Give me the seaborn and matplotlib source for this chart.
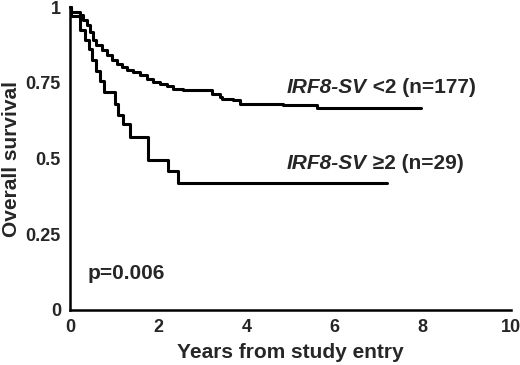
import pandas as pd
import matplotlib
matplotlib.use("Agg")
import matplotlib.pyplot as plt
import seaborn as sns

# Kaplan-Meier steps (years, survival fraction)
LOW_TIME = [0, 0.02, 0.23, 0.34, 0.44, 0.51, 0.60, 0.68, 0.76, 1.02, 1.09, 1.20,
            1.36, 1.77, 2.23, 2.46, 7.18]
LOW_SURV = [1.0, 0.97, 0.925, 0.89, 0.86, 0.825, 0.79, 0.755, 0.72, 0.68, 0.645,
            0.615, 0.57, 0.495, 0.46, 0.42, 0.42]

HIGH_TIME = [0, 0.02, 0.23, 0.30, 0.38, 0.45, 0.53, 0.60, 0.72, 0.83, 0.95, 1.06,
             1.17, 1.29, 1.44, 1.59, 1.74, 1.89, 2.04, 2.19, 2.34, 2.57, 3.21,
             3.40, 3.45, 3.70, 3.85, 4.84, 5.59, 7.97]
HIGH_SURV = [1.0, 0.984, 0.973, 0.956, 0.94, 0.918, 0.89, 0.874, 0.857, 0.841,
             0.824, 0.813, 0.802, 0.791, 0.786, 0.775, 0.764, 0.753, 0.747,
             0.739, 0.731, 0.725, 0.714, 0.703, 0.695, 0.692, 0.681, 0.676,
             0.667, 0.667]

GROUPS = ["<2", ">=2"]
LABEL_GENE = "IRF8-SV"
LABEL_REST = [" <2 (n=177)", " ≥2 (n=29)"]
X_TICKS = [0, 2, 4, 6, 8, 10]
Y_TICKS = [0, 0.25, 0.5, 0.75, 1]
Y_TICK_LABELS = ["0", "0.25", "0.5", "0.75", "1"]

sns.set_style("white")
plt.rcParams["font.family"] = ["Liberation Sans", "DejaVu Sans"]
plt.rcParams["font.weight"] = "bold"

df = pd.concat([
    pd.DataFrame({"Years": HIGH_TIME, "Survival": HIGH_SURV, "Group": GROUPS[0]}),
    pd.DataFrame({"Years": LOW_TIME, "Survival": LOW_SURV, "Group": GROUPS[1]}),
])

fig = plt.figure(figsize=(5.2, 3.65), dpi=100)
ax = fig.add_axes([0.1346, 0.1507, 0.8481, 0.8301])

sns.lineplot(
    data=df, x="Years", y="Survival", hue="Group",
    palette=["black", "black"], estimator=None, sort=False,
    drawstyle="steps-post", linewidth=2.2, legend=False, ax=ax,
)
for line in ax.lines:
    line.set_clip_on(False)

ax.set_xlim(0, 10)
ax.set_ylim(0, 1)
ax.set_xticks(X_TICKS)
ax.set_yticks(Y_TICKS)
ax.set_yticklabels(Y_TICK_LABELS)
ax.tick_params(axis="both", direction="inout", length=6, width=1.6,
               labelsize=13, color="black")
for lab in ax.get_xticklabels() + ax.get_yticklabels():
    lab.set_fontweight("bold")

sns.despine(ax=ax)
for side in ["left", "bottom"]:
    ax.spines[side].set_linewidth(1.8)
    ax.spines[side].set_color("black")

ax.set_xlabel("Years from study entry", fontsize=15, fontweight="bold")
ax.set_ylabel("Overall survival", fontsize=15, fontweight="bold")
ax.xaxis.set_label_coords(0.5, -0.108)
ax.yaxis.set_label_coords(-0.112, 0.5)

# group labels: gene name in italic, rest upright
for y, rest in zip([0.735, 0.485], LABEL_REST):
    t = ax.text(4.92, y, LABEL_GENE, fontsize=15, fontweight="bold",
                style="italic", va="center")
    ax.annotate(rest, xy=(1, 0), xycoords=t, va="bottom", ha="left",
                fontsize=15, fontweight="bold")

ax.text(0.41, 0.12, "p=0.006", fontsize=15, fontweight="bold", va="center")

fig.savefig("out.png", dpi=100)
